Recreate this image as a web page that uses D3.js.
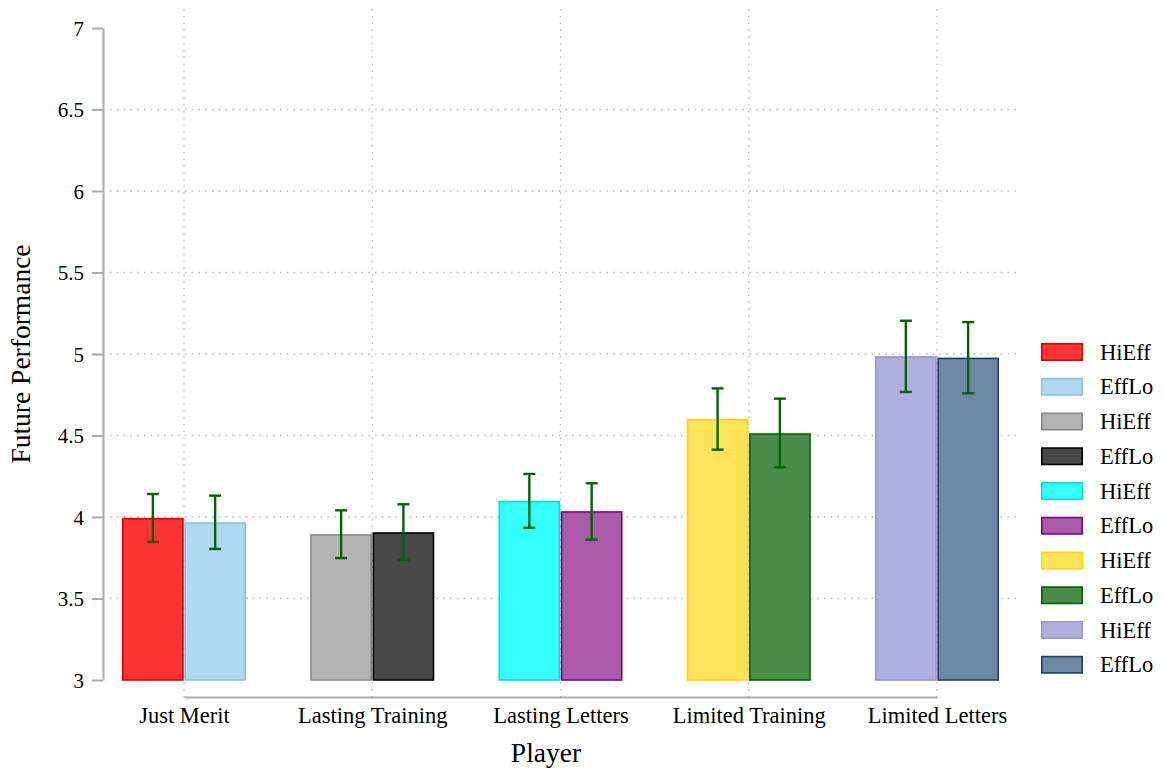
<!DOCTYPE html>
<html>
<head>
<meta charset="utf-8">
<script src="https://cdn.jsdelivr.net/npm/d3@7"></script>
<style>
  html, body { margin: 0; padding: 0; background: #fff; }
  svg { display: block; }
  svg text { font-family: "Liberation Serif", "Times New Roman", serif; fill: #000; }
</style>
</head>
<body>
<svg id="chart" width="1163" height="771"></svg>
<script>
// Player conditions along the x axis
const categories = ["Just Merit", "Lasting Training", "Lasting Letters", "Limited Training", "Limited Letters"];
const groups = ["HiEff", "EffLo"];

// Mean future performance per condition and group
const hiEffValues = [3.99, 3.89, 4.094, 4.597, 4.982];
const effLoValues = [3.963, 3.902, 4.031, 4.509, 4.973];

// Error bar bounds
const hiEffLower = [3.847, 3.748, 3.934, 4.413, 4.767];
const hiEffUpper = [4.141, 4.041, 4.264, 4.789, 5.204];
const effLoLower = [3.804, 3.736, 3.861, 4.305, 4.759];
const effLoUpper = [4.131, 4.078, 4.207, 4.726, 5.196];

// y-axis ticks
const yTicks = [3, 3.5, 4, 4.5, 5, 5.5, 6, 6.5, 7];

// Bar colours: one fill/stroke pair per condition and group
const fills   = ["#ff3333", "#b0d8f0", "#b3b3b3", "#484848", "#33ffff", "#ab5bab", "#ffe35b", "#4a8c4a", "#b0aede", "#6c88a4"];
const strokes = ["#e00000", "#86c0ea", "#888888", "#000000", "#00dede", "#800080", "#ffd700", "#006400", "#9b95d6", "#1f3f66"];

const svg = d3.select("#chart");
const gridColor = "#b4b4b4";
const axisColor = "#aaaaaa";

const y = d3.scaleLinear().domain([3, 7]).range([680, 28]);
const x = d3.scalePoint().domain(categories).range([184, 937]);
const xInner = d3.scaleBand().domain(groups).range([-62, 62]).paddingInner(0.01);

// Flattened bar records
const bars = [];
categories.forEach((c, i) => {
  bars.push({ cat: c, group: "HiEff", value: hiEffValues[i], lo: hiEffLower[i], hi: hiEffUpper[i], k: i * 2 });
  bars.push({ cat: c, group: "EffLo", value: effLoValues[i], lo: effLoLower[i], hi: effLoUpper[i], k: i * 2 + 1 });
});

// Gridlines
const grid = svg.append("g");
grid.selectAll("line.h")
  .data(yTicks.filter(t => t > 3 && t < 7))
  .join("line")
  .attr("x1", 110).attr("x2", 1016)
  .attr("y1", d => y(d)).attr("y2", d => y(d))
  .attr("stroke", gridColor).attr("stroke-width", 1.3)
  .attr("stroke-dasharray", "1.5,5.3");
grid.selectAll("line.v")
  .data(categories)
  .join("line")
  .attr("x1", d => x(d)).attr("x2", d => x(d))
  .attr("y1", 9).attr("y2", 697)
  .attr("stroke", gridColor).attr("stroke-width", 1.3)
  .attr("stroke-dasharray", "1.5,5.3");

// Bars
svg.append("g").selectAll("rect")
  .data(bars)
  .join("rect")
  .attr("x", d => x(d.cat) + xInner(d.group) + 0.75)
  .attr("width", xInner.bandwidth() - 1.5)
  .attr("y", d => y(d.value))
  .attr("height", d => y(3) - y(d.value))
  .attr("fill", d => fills[d.k])
  .attr("stroke", d => strokes[d.k])
  .attr("stroke-width", 1.6);

// Error bars
const eb = svg.append("g").attr("stroke", "#006400").attr("stroke-width", 2.4).attr("fill", "none");
const cx = d => x(d.cat) + xInner(d.group) + xInner.bandwidth() / 2;
eb.selectAll("line.stem").data(bars).join("line")
  .attr("x1", cx).attr("x2", cx)
  .attr("y1", d => y(d.hi)).attr("y2", d => y(d.lo));
eb.selectAll("line.capHi").data(bars).join("line")
  .attr("x1", d => cx(d) - 6).attr("x2", d => cx(d) + 6)
  .attr("y1", d => y(d.hi)).attr("y2", d => y(d.hi));
eb.selectAll("line.capLo").data(bars).join("line")
  .attr("x1", d => cx(d) - 6).attr("x2", d => cx(d) + 6)
  .attr("y1", d => y(d.lo)).attr("y2", d => y(d.lo));

// y axis
const yAxis = svg.append("g")
  .attr("transform", "translate(103,0)")
  .call(d3.axisLeft(y).tickValues(yTicks).tickFormat(d => String(d)).tickSize(11).tickSizeOuter(0).tickPadding(8));
yAxis.attr("font-family", null).attr("font-size", null);
yAxis.select(".domain").attr("stroke", axisColor).attr("stroke-width", 2);
yAxis.selectAll(".tick line").attr("stroke", axisColor).attr("stroke-width", 2);
yAxis.selectAll(".tick text").style("font-size", "21px").attr("dy", "0.34em");

// x axis
const xAxis = svg.append("g")
  .attr("transform", "translate(0,697)")
  .call(d3.axisBottom(x).tickSize(0).tickSizeOuter(0).tickPadding(10));
xAxis.attr("font-family", null).attr("font-size", null);
xAxis.select(".domain").attr("stroke", axisColor).attr("stroke-width", 2);
xAxis.selectAll(".tick text").style("font-size", "22.5px");

// Axis titles
svg.append("text")
  .attr("x", 546).attr("y", 762)
  .attr("text-anchor", "middle")
  .style("font-size", "27.5px")
  .text("Player");
svg.append("text")
  .attr("transform", "translate(30,354) rotate(-90)")
  .attr("text-anchor", "middle")
  .style("font-size", "27.5px")
  .text("Future Performance");

// Legend: one entry per bar colour
const legendLabels = bars.map(d => d.group);
const legend = svg.append("g").attr("transform", "translate(1041,352)");
const item = legend.selectAll("g").data(legendLabels).join("g")
  .attr("transform", (d, i) => `translate(0,${i * 34.75})`);
item.append("rect")
  .attr("x", 0.8).attr("y", -8.2)
  .attr("width", 40.4).attr("height", 16.4)
  .attr("fill", (d, i) => fills[i])
  .attr("stroke", (d, i) => strokes[i])
  .attr("stroke-width", 1.6);
item.append("text")
  .attr("x", 59).attr("y", 7.5)
  .style("font-size", "22.5px")
  .text(d => d);
</script>
</body>
</html>
